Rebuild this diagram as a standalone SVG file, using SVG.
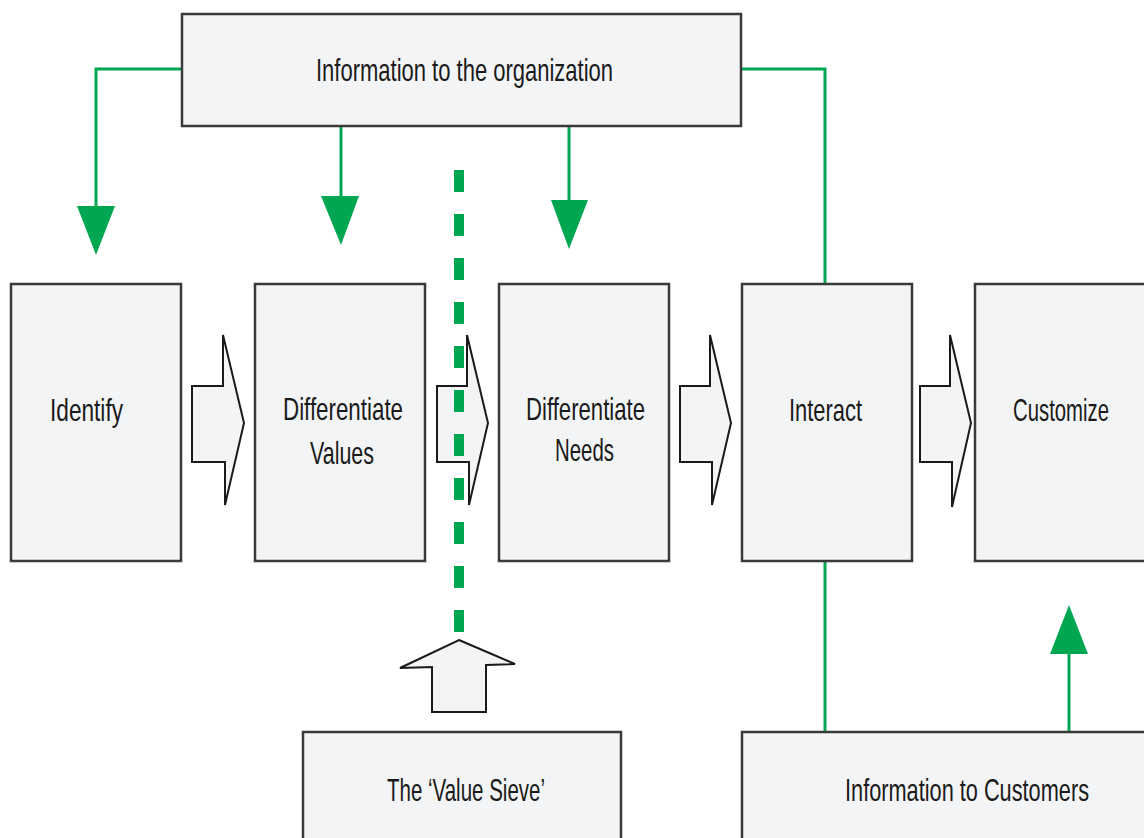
<svg xmlns="http://www.w3.org/2000/svg" width="1144" height="838" viewBox="0 0 1144 838">
<style>
.box{fill:#f3f4f6;stroke:#3a3a3a;stroke-width:2.5}
.fill{fill:#f3f4f6;stroke:none}
.edge{fill:none;stroke:#3a3a3a;stroke-width:2.5}
.blk{fill:#f3f4f6;stroke:#1a1a1a;stroke-width:2;stroke-linejoin:miter}
.g{fill:none;stroke:#00a651;stroke-width:3}
.gh{fill:#00a651;stroke:none}
.t{font-family:"Liberation Sans Narrow","Liberation Sans",Arial,sans-serif;font-size:32px;fill:#1a1a1a;text-anchor:start}
</style>
<rect width="1144" height="838" fill="#ffffff"/>
<g id="connectors">
<polyline class="g" points="182,69 96,69 96,208"/>
<polygon class="gh" points="77,206 115,206 96,255"/>
<line class="g" x1="341" y1="126" x2="341" y2="198"/>
<polygon class="gh" points="321,196 359,196 341,245"/>
<line class="g" x1="569" y1="126" x2="569" y2="202"/>
<polygon class="gh" points="551,200 588,200 569,249"/>
<polyline class="g" points="741,69 825,69 825,284"/>
<line class="g" x1="825" y1="561" x2="825" y2="732"/>
<line class="g" x1="1069" y1="732" x2="1069" y2="652"/>
<polygon class="gh" points="1050,654 1088,654 1069,605"/>
</g>
<g id="info-org">
<rect class="box" x="182" y="14" width="559" height="112"/>
<text class="t" x="316" y="81" textLength="297" lengthAdjust="spacingAndGlyphs">Information to the organization</text>
</g>
<g id="identify">
<rect class="box" x="11" y="284" width="170" height="277"/>
<text class="t" x="50" y="421" textLength="73" lengthAdjust="spacingAndGlyphs">Identify</text>
</g>
<g id="diff-values">
<rect class="box" x="255" y="284" width="170" height="277"/>
<text class="t" x="283" y="420" textLength="120" lengthAdjust="spacingAndGlyphs">Differentiate</text>
<text class="t" x="310" y="464" textLength="64" lengthAdjust="spacingAndGlyphs">Values</text>
</g>
<g id="diff-needs">
<rect class="box" x="499" y="284" width="170" height="277"/>
<text class="t" x="526" y="420" textLength="119" lengthAdjust="spacingAndGlyphs">Differentiate</text>
<text class="t" x="555" y="461" textLength="59" lengthAdjust="spacingAndGlyphs">Needs</text>
</g>
<g id="interact">
<rect class="box" x="742" y="284" width="170" height="277"/>
<text class="t" x="789" y="421" textLength="73" lengthAdjust="spacingAndGlyphs">Interact</text>
</g>
<g id="customize">
<rect class="fill" x="975" y="284" width="169" height="277"/>
<path class="edge" d="M1144,284 H975 V561 H1144"/>
<text class="t" x="1013" y="421" textLength="96" lengthAdjust="spacingAndGlyphs">Customize</text>
</g>
<g id="flow-arrows">
<polygon class="blk" points="192,386 223,386 223,335 244,423 225,505 225,462 192,462"/>
<polygon class="blk" points="437,386 467,386 467,335 488,423 469,505 469,462 437,462"/>
<polygon class="blk" points="680,386 710,386 710,335 731,423 712,505 712,462 680,462"/>
<polygon class="blk" points="920,386 950,386 950,335 971,423 952,507 952,462 920,462"/>
</g>
<g id="sieve-line">
<line x1="459" y1="170" x2="459" y2="640" stroke="#00a651" stroke-width="10" stroke-dasharray="22,22"/>
</g>
<g id="sieve-arrow">
<polygon class="blk" points="459,640 515,664 486,665 486,712 432,712 432,667 400,668"/>
</g>
<g id="value-sieve">
<rect class="fill" x="303" y="732" width="318" height="106"/>
<path class="edge" d="M303,838 V732 H621 V838"/>
<text class="t" x="387" y="801" textLength="158" lengthAdjust="spacingAndGlyphs">The ‘Value Sieve’</text>
</g>
<g id="info-customers">
<rect class="fill" x="742" y="732" width="402" height="106"/>
<path class="edge" d="M742,838 V732 H1144"/>
<text class="t" x="845" y="801" textLength="244" lengthAdjust="spacingAndGlyphs">Information to Customers</text>
</g>
</svg>
